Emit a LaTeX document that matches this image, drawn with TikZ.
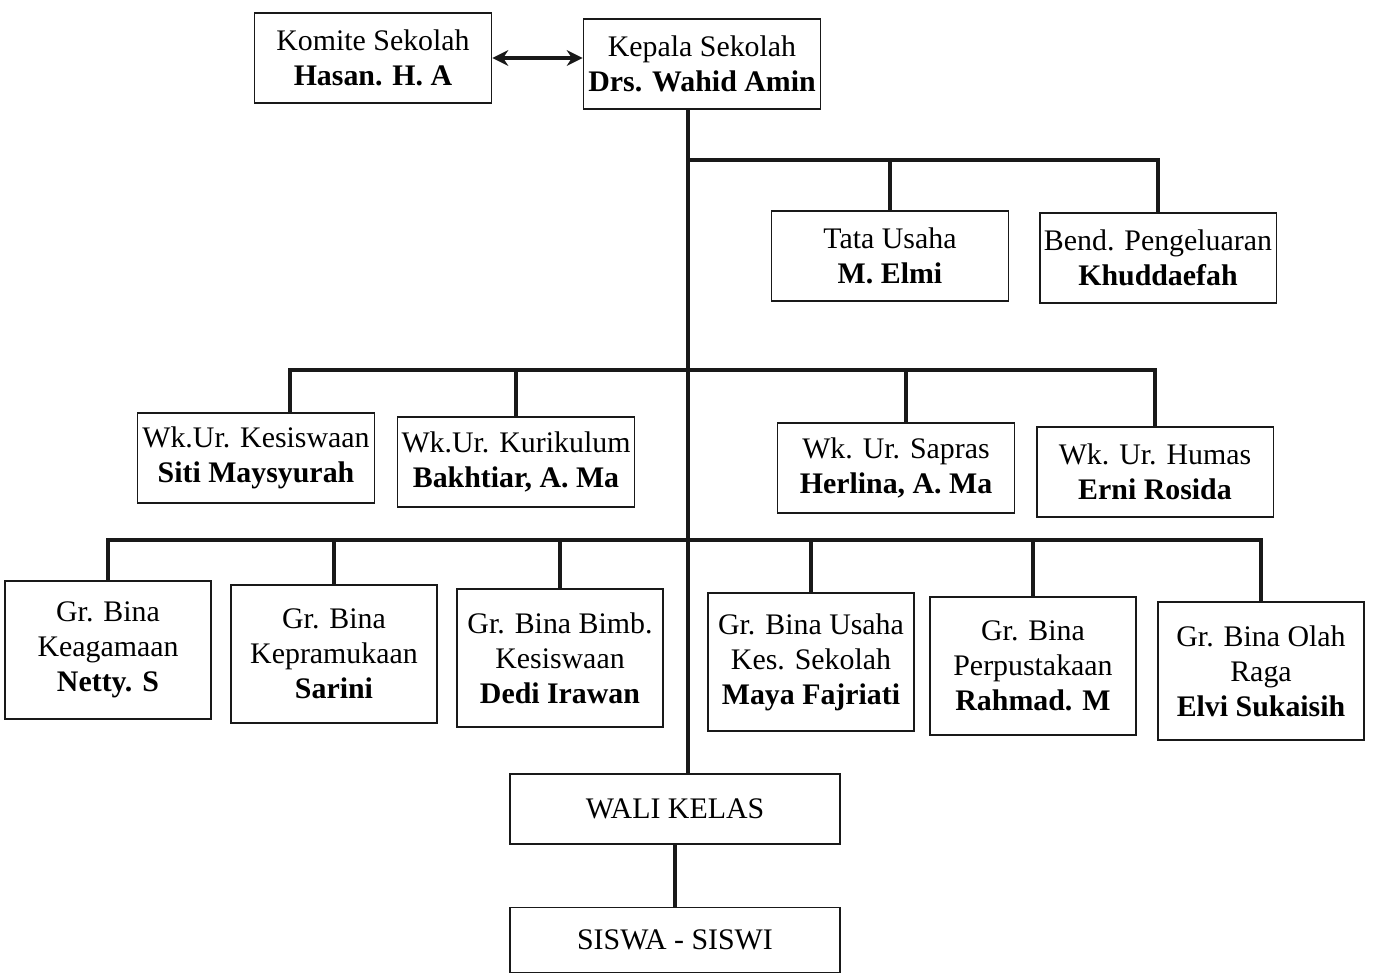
\documentclass[tikz,border=0pt]{standalone}
\usepackage{fontspec}
\setmainfont{Liberation Serif}
\usetikzlibrary{arrows.meta,positioning,calc}
\definecolor{inkblack}{RGB}{25,25,25}

\begin{document}
\begin{tikzpicture}[
  x=0.02cm, y=-0.02cm,
  font=\fontsize{17}{20}\selectfont,
  unit/.style={rectangle, draw=inkblack, line width=1.1pt, align=center,
    inner sep=1pt, minimum width=4.74cm, minimum height=1.8cm},
  guru/.style={unit, minimum width=4.12cm, minimum height=2.76cm},
  wide/.style={unit, minimum width=6.6cm, minimum height=1.4cm},
  link/.style={draw=inkblack, line width=2.8pt},
  biarr/.style={{Stealth[length=9pt,width=9pt]}-{Stealth[length=9pt,width=9pt]},
    draw=inkblack, line width=2.4pt},
]
\useasboundingbox (0,0) rectangle (1373,975);

% top row
\node[unit]  (komite) at (373,58)  {Komite Sekolah\\\textbf{Hasan. H. A}};
\node[unit]  (kepala) at (702,64)  {Kepala Sekolah\\\textbf{Drs. Wahid Amin}};

% staff
\node[unit]  (tata)   at (890,256)  {Tata Usaha\\\textbf{M. Elmi}};
\node[unit]  (bend)   at (1158,258) {Bend. Pengeluaran\\\textbf{Khuddaefah}};

% wakil urusan
\node[unit]  (wkis)   at (256,458)  {Wk.Ur. Kesiswaan\\\textbf{Siti Maysyurah}};
\node[unit]  (wkur)   at (516,462)  {Wk.Ur. Kurikulum\\\textbf{Bakhtiar, A. Ma}};
\node[unit]  (sapras) at (896,468)  {Wk. Ur. Sapras\\\textbf{Herlina, A. Ma}};
\node[unit]  (humas)  at (1155,472) {Wk. Ur. Humas\\\textbf{Erni Rosida}};

% guru bina
\node[guru]  (agama)  at (108,650)  {Gr. Bina\\Keagamaan\\\textbf{Netty. S}};
\node[guru]  (pramuka) at (334,654) {Gr. Bina\\Kepramukaan\\\textbf{Sarini}};
\node[guru]  (bimb)   at (560,658)  {Gr. Bina Bimb.\\Kesiswaan\\\textbf{Dedi Irawan}};
\node[guru]  (uks)    at (811,662)  {Gr. Bina Usaha\\Kes. Sekolah\\\textbf{Maya Fajriati}};
\node[guru]  (pustaka) at (1033,666) {Gr. Bina\\Perpustakaan\\\textbf{Rahmad. M}};
\node[guru]  (olga)   at (1261,671) {Gr. Bina Olah\\Raga\\\textbf{Elvi Sukaisih}};

% bottom
\node[wide]  (wali)   at (675,809)  {WALI KELAS};
\node[wide, minimum height=1.3cm] (siswa) at (675,940) {SISWA - SISWI};

% branch points on the trunk
\coordinate (trunk) at (688,0);
\coordinate (bar1)  at (688,160);
\coordinate (bar2)  at (688,370);
\coordinate (bar3)  at (688,540);

% connectors
\draw[biarr] (komite.east) -- (kepala.west |- komite.east);
\draw[link] (kepala.south -| trunk) -- (wali.north -| trunk);
\draw[link] (bar1) -| (bend.north);
\draw[link] (tata.north) -- (tata.north |- bar1);
\draw[link] ([xshift=0.68cm]wkis.north) |- (bar2) -| (humas.north);
\draw[link] (wkur.north) -- (wkur.north |- bar2);
\draw[link] ([xshift=0.2cm]sapras.north) -- ([xshift=0.2cm]sapras.north |- bar2);
\draw[link] (agama.north) |- (bar3) -| (olga.north);
\foreach \g in {pramuka,bimb,uks,pustaka}
  \draw[link] (\g.north) -- (\g.north |- bar3);
\draw[link] (wali) -- (siswa);

\end{tikzpicture}
\end{document}
